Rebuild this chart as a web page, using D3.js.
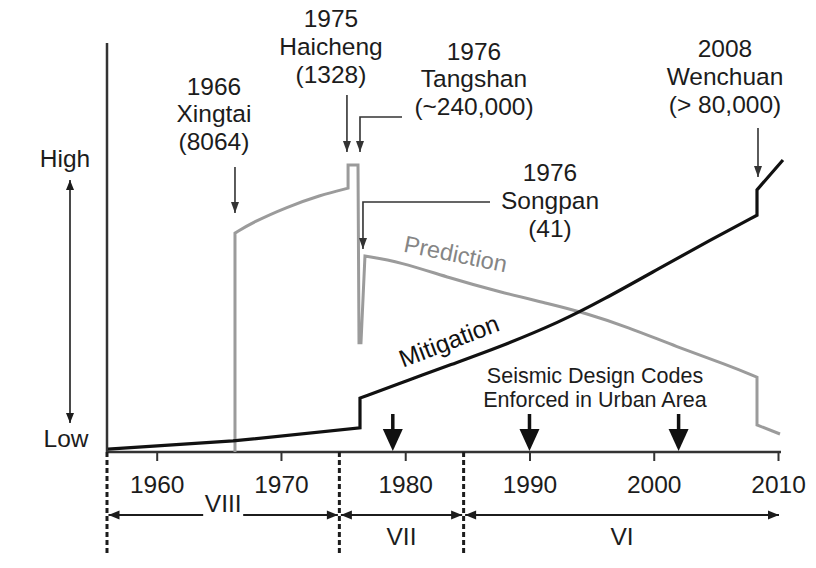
<!DOCTYPE html>
<html><head><meta charset="utf-8">
<script src="https://cdn.jsdelivr.net/npm/d3@7"></script>
<style>
html,body{margin:0;padding:0;background:#fff;}
svg{display:block;font-family:"Liberation Sans",Arial,Helvetica,sans-serif;}
</style></head><body>
<svg id="chart" width="816" height="568"></svg>
<script>
// ---------- data ----------
const tickYears = [1960, 1970, 1980, 1990, 2000, 2010];
const zoneLabels = ["VIII", "VII", "VI"];
const zoneBounds = [1956, 1974.7, 1984.7, 2010.2];
const codeYears = [1979, 1990, 2002];
const codeText = ["Seismic Design Codes", "Enforced in Urban Area"];
const eventYears = ["1966", "1975", "1976", "1976", "2008"];
const eventNames = ["Xingtai", "Haicheng", "Tangshan", "Songpan", "Wenchuan"];
const eventDeaths = ["(8064)", "(1328)", "(~240,000)", "(41)", "(> 80,000)"];
const eventArrowYears = [1966.3, 1975.31, 1976.36, 1976.6, 2008.39];
const levelLabels = ["High", "Low"];

// prediction curve (year, relative level 0..100); pieces: [points, smooth?]
const predictionPieces = [
  [[[1966.30, 0], [1966.30, 53.5]], false],
  [[[1966.30, 53.5], [1967.75, 56.2], [1970.49, 59.9], [1973.14, 62.8], [1975.40, 64.5]], true],
  [[[1975.40, 64.5], [1975.40, 70.2], [1976.20, 70.2], [1976.28, 26.7], [1976.44, 26.7], [1976.76, 47.9]], false],
  [[[1976.76, 47.9], [1979.58, 46.5], [1983.60, 42.5], [1987.63, 39.1], [1991.65, 36.2], [1994.47, 34.0],
    [1997.85, 30.6], [2001.87, 25.7], [2005.90, 21.3], [2008.31, 18.3]], true],
  [[[2008.31, 18.3], [2008.31, 6.6], [2010.16, 4.4]], false]
];
const mitigationPieces = [
  [[[1956.08, 0.7], [1966.14, 2.7], [1976.36, 5.9], [1976.36, 13.2]], false],
  [[[1976.36, 13.2], [1980.14, 17.4], [1983.60, 21.3], [1987.63, 25.7], [1992.46, 31.8], [1995.92, 37.2],
    [2000.50, 45.0], [2004.53, 51.8], [2008.31, 57.9]], true],
  [[[2008.31, 57.9], [2008.31, 64.1], [2010.40, 71.4]], false]
];

// ---------- layout ----------
const svg = d3.select("#chart");
const x = d3.scaleLinear().domain([1956, 2010]).range([107, 778]);
const y = d3.scaleLinear().domain([0, 100]).range([452, 43]);
const INK = "#1c1c1c", GRAY = "#9b9b9b";
const FS = 24.5;

function arrowHead(g, tx, ty, ang, len, wid, color) {
  const c = Math.cos(ang), s = Math.sin(ang);
  const bx = tx - c * len, by = ty - s * len;
  const px = -s * wid / 2, py = c * wid / 2;
  g.append("path").attr("d", `M${tx},${ty}L${bx + px},${by + py}L${bx - px},${by - py}Z`)
    .attr("fill", color).attr("stroke", "none");
}
function arrow(g, pts, color, sw, len, wid, both) {
  g.append("path").attr("d", d3.line()(pts)).attr("fill", "none")
    .attr("stroke", color).attr("stroke-width", sw);
  const n = pts.length;
  const a = Math.atan2(pts[n - 1][1] - pts[n - 2][1], pts[n - 1][0] - pts[n - 2][0]);
  arrowHead(g, pts[n - 1][0], pts[n - 1][1], a, len, wid, color);
  if (both) {
    const b = Math.atan2(pts[0][1] - pts[1][1], pts[0][0] - pts[1][0]);
    arrowHead(g, pts[0][0], pts[0][1], b, len, wid, color);
  }
}
function piecesPath(pieces) {
  let d = "";
  pieces.forEach(([pts, smooth], i) => {
    const gen = d3.line().x(p => x(p[0])).y(p => y(p[1]))
      .curve(smooth ? d3.curveBasis : d3.curveLinear);
    let s = gen(pts);
    if (i > 0) s = s.replace(/^M/, "L");
    d += s;
  });
  return d;
}

// ---------- axes ----------
svg.append("line").attr("x1", x(1956)).attr("x2", x(1956)).attr("y1", y(100)).attr("y2", y(0))
  .attr("stroke", "#333").attr("stroke-width", 2.5);

const xAxis = svg.append("g").attr("transform", `translate(0,${y(0)})`)
  .call(d3.axisBottom(x).tickValues(tickYears).tickSize(9).tickSizeOuter(0).tickFormat(d3.format("d")));
xAxis.select(".domain").attr("stroke", "#333").attr("stroke-width", 2.5)
  .attr("d", `M${x(1956)},0H${x(2010) + 3}`);
xAxis.selectAll(".tick line").attr("stroke", "#333").attr("stroke-width", 2);
xAxis.selectAll(".tick text").attr("y", 41).attr("dy", null)
  .attr("font-size", FS).attr("font-family", "Liberation Sans, Arial, sans-serif").attr("fill", INK);

// ---------- intensity zones ----------
const zg = svg.append("g");
zoneBounds.slice(0, 3).forEach(b => {
  zg.append("line").attr("x1", x(b)).attr("x2", x(b)).attr("y1", y(0)).attr("y2", 553)
    .attr("stroke", INK).attr("stroke-width", 3).attr("stroke-dasharray", "5,3");
});
const arrowY = 515;
zoneLabels.forEach((lab, i) => {
  const x0 = x(zoneBounds[i]) + 1.5, x1 = x(zoneBounds[i + 1]) - 1.5;
  arrow(zg, [[x0, arrowY], [x1, arrowY]], INK, 2, 11, 9, true);
  const cx = (x(zoneBounds[i]) + x(zoneBounds[i + 1])) / 2;
  if (i === 0) {
    zg.append("rect").attr("x", cx - 20).attr("y", arrowY - 4).attr("width", 40).attr("height", 8).attr("fill", "#fff");
    zg.append("text").attr("x", cx).attr("y", 512).attr("text-anchor", "middle")
      .attr("font-size", FS).attr("fill", INK).text(lab);
  } else {
    zg.append("text").attr("x", cx).attr("y", 545).attr("text-anchor", "middle")
      .attr("font-size", FS).attr("fill", INK).text(lab);
  }
});

// ---------- High / Low ----------
const lg = svg.append("g");
lg.append("text").attr("x", 65).attr("y", 167).attr("text-anchor", "middle").attr("font-size", FS).attr("fill", INK).text(levelLabels[0]);
lg.append("text").attr("x", 66).attr("y", 447).attr("text-anchor", "middle").attr("font-size", FS).attr("fill", INK).text(levelLabels[1]);
arrow(lg, [[70, 180], [70, 423]], INK, 1.6, 10, 8, true);

// ---------- curves ----------
svg.append("path").attr("d", piecesPath(predictionPieces)).attr("fill", "none")
  .attr("stroke", GRAY).attr("stroke-width", 3).attr("stroke-linejoin", "miter");
svg.append("path").attr("d", piecesPath(mitigationPieces)).attr("fill", "none")
  .attr("stroke", "#111").attr("stroke-width", 3.2).attr("stroke-linejoin", "miter");

svg.append("text").attr("transform", "translate(454,262) rotate(11.5)").attr("text-anchor", "middle")
  .attr("font-size", 23.5).attr("fill", "#858585").text("Prediction");
svg.append("text").attr("transform", "translate(452,349) rotate(-21)").attr("text-anchor", "middle")
  .attr("font-size", FS).attr("fill", "#111").text("Mitigation");

// ---------- event annotations ----------
const labelLayout = [
  {cx: 214, ys: [95, 122, 150], arrow: [[null, 167], [null, 213]]},
  {cx: 331, ys: [27, 55, 83], arrow: [[null, 95], [null, 152]]},
  {cx: 474, ys: [60, 87, 115], arrow: [[402, 117], [null, 117], [null, 152]]},
  {cx: 550, ys: [181, 209, 237], arrow: [[490, 202], [null, 202], [null, 249]]},
  {cx: 725, ys: [57, 85, 113], arrow: [[null, 128], [null, 177]]}
];
const eg = svg.append("g");
eventNames.forEach((name, i) => {
  const L = labelLayout[i];
  [eventYears[i], name, eventDeaths[i]].forEach((t, j) => {
    eg.append("text").attr("x", L.cx).attr("y", L.ys[j]).attr("text-anchor", "middle")
      .attr("font-size", FS).attr("fill", INK).text(t);
  });
  const ax = x(eventArrowYears[i]);
  const pts = L.arrow.map(p => [p[0] === null ? ax : p[0], p[1]]);
  arrow(eg, pts, "#333", 1.6, 11, 8, false);
});

// ---------- seismic design codes ----------
const cg = svg.append("g");
codeText.forEach((t, j) => {
  cg.append("text").attr("x", 595).attr("y", 383 + j * 24).attr("text-anchor", "middle")
    .attr("font-size", 21.5).attr("fill", INK).text(t);
});
codeYears.forEach(yr => {
  const cx = x(yr);
  cg.append("line").attr("x1", cx).attr("x2", cx).attr("y1", 414).attr("y2", 432)
    .attr("stroke", "#111").attr("stroke-width", 3.5);
  arrowHead(cg, cx, 451, Math.PI / 2, 22, 20, "#111");
});
</script>
</body></html>
